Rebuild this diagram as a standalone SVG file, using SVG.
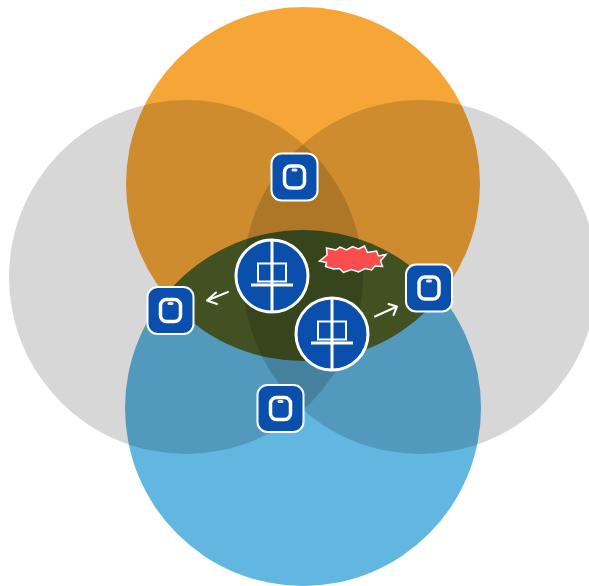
<svg xmlns="http://www.w3.org/2000/svg" width="589" height="586" viewBox="0 0 589 586">
<style>
.zone{mix-blend-mode:multiply}
.box{fill:#0b4fac;stroke:#fff;stroke-width:2}
.inner{fill:none;stroke:#fff;stroke-width:3.5}
.mark{fill:#dfe8f5}
.hub{fill:#0b4fac;stroke:#fff;stroke-width:3}
.ln{fill:none;stroke:#fff;stroke-width:2}
.bar{fill:none;stroke:#fff;stroke-width:3}
.arrow{fill:none;stroke:#fff;stroke-width:2;stroke-linecap:round;stroke-linejoin:round}
</style>
<defs>
<clipPath id="orangeClip"><circle cx="303" cy="184" r="177"/></clipPath>
<g id="box"><rect class="box" x="-23" y="-23.500" width="46" height="47" rx="10"/><rect class="inner" x="-10" y="-11" width="20" height="22" rx="6"/><rect class="mark" x="-3" y="-8.500" width="6" height="3" rx="1.500"/></g>
<g id="hub"><circle class="hub" r="36"/><rect class="ln" x="-14" y="-12.500" width="28" height="18"/><line class="bar" x1="0" y1="-36" x2="0" y2="36"/><line class="bar" x1="-21" y1="9" x2="21" y2="9"/></g>
</defs>
<rect width="589" height="586" fill="#fff"/>
<g id="zones">
<circle class="zone" cx="186" cy="277" r="177" fill="#d7d7d7"/>
<circle class="zone" cx="420" cy="277" r="177" fill="#d7d7d7"/>
<circle class="zone" cx="303" cy="184" r="177" fill="#f5a637"/>
<circle class="zone" cx="303" cy="408" r="178" fill="#61b7e0"/>
<circle class="zone" cx="303" cy="408" r="178" fill="#d4cdc8" clip-path="url(#orangeClip)"/>
</g>
<g id="connectors">
<path class="arrow" d="M228 292L207 300.500M216 292.500L207 300.500L217 304"/>
<path class="arrow" d="M375 316.500L397 306.500M388.500 304L397 306.500L393.500 315"/>
</g>
<g id="burst"><polygon points="319.500,261 327,255 326.500,248 336,250 340,247 346.500,250 352.500,246.500 358.500,249 364.500,246 367.500,252.500 376.500,251 378.500,256 386,254.500 380.500,261 382.500,266.500 375,266 371.500,270 365,268.500 358.500,272 351.500,269.500 343.500,272.500 339.500,268.500 333.500,269 325.500,266.500 326.500,262.500" fill="#fa4d4d" stroke="#fff" stroke-width="1.500"/></g>
<use id="node-top" href="#box" x="294.500" y="177"/>
<use id="node-left" href="#box" x="170.500" y="310.500"/>
<use id="node-right" href="#box" x="429" y="288"/>
<use id="node-bottom" href="#box" x="280.500" y="408.500"/>
<use id="hub-a" href="#hub" x="272" y="276"/>
<use id="hub-b" href="#hub" x="332" y="334"/>
</svg>
